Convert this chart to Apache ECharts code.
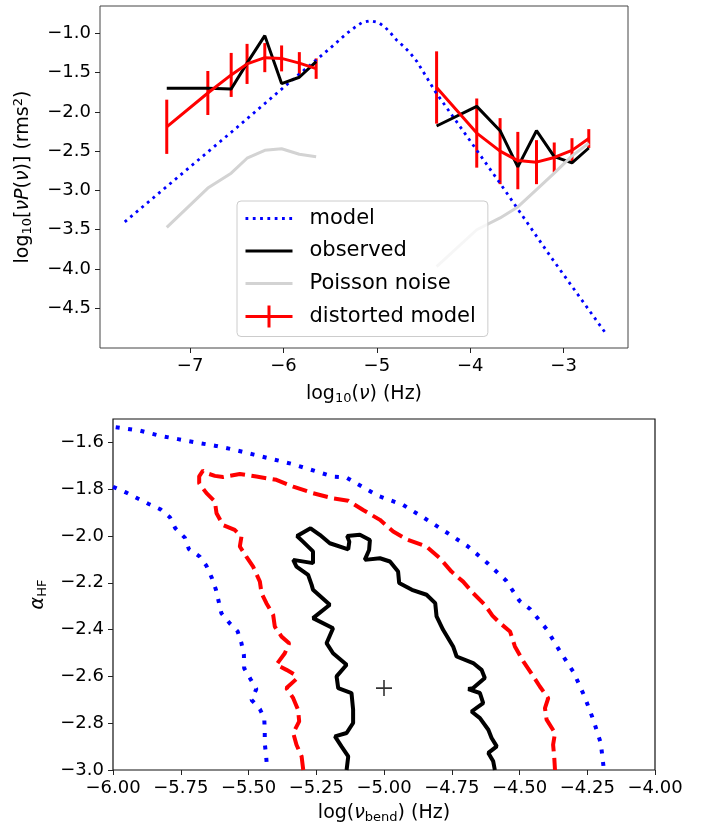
<!DOCTYPE html>
<html>
<head>
<meta charset="utf-8">
<script src="https://cdn.jsdelivr.net/npm/echarts@6/dist/echarts.min.js"></script>
<style>
html, body { margin: 0; padding: 0; background: #fff; }
#chart { width: 704px; height: 830px; }
</style>
</head>
<body>
<div id="chart"></div>
<script>
// ---- top panel: log10(nu) vs log10[nu P(nu)] ----
var modelX = [-7.70, -7.40, -7.00, -6.50, -6.00, -5.50, -5.32, -5.23, -5.16, -5.07, -4.98, -4.91, -4.85, -4.79, -4.71, -4.64, -4.57, -4.37, -4.00, -3.68, -3.14, -2.56];
var modelY = [-3.40, -3.10, -2.70, -2.20, -1.69, -1.19, -1.00, -0.92, -0.865, -0.84, -0.865, -0.925, -1.00, -1.085, -1.17, -1.255, -1.36, -1.75, -2.37, -2.91, -3.84, -4.80];

var loFreq = [-7.25, -6.81, -6.56, -6.39, -6.20, -6.02, -5.83, -5.65];
var hiFreq = [-4.36, -3.93, -3.68, -3.49, -3.29, -3.10, -2.91, -2.73];

var obsLo = [-1.70, -1.70, -1.71, -1.38, -1.03, -1.64, -1.56, -1.36];
var obsHi = [-2.18, -1.93, -2.24, -2.70, -2.24, -2.57, -2.65, -2.46];

var noiseLo = [-3.47, -2.97, -2.78, -2.59, -2.49, -2.47, -2.54, -2.57];
var noiseHi = [-3.97, -3.50, -3.35, -3.21, -2.99, -2.78, -2.56, -2.40];

var distLo = [-2.19, -1.76, -1.53, -1.39, -1.31, -1.32, -1.38, -1.45];
var distLoErr = [0.345, 0.28, 0.28, 0.255, 0.185, 0.165, 0.14, 0.13];
var distHi = [-1.69, -2.27, -2.50, -2.62, -2.64, -2.58, -2.49, -2.34];
var distHiErr = [0.46, 0.44, 0.42, 0.365, 0.28, 0.19, 0.155, 0.12];

var topXTicks = [-7, -6, -5, -4, -3];
var topYTicks = [-4.5, -4.0, -3.5, -3.0, -2.5, -2.0, -1.5, -1.0];

// ---- bottom panel: confidence contours in (log nu_bend, alpha_HF) ----
var contour1 = [[-5.138,-3.0],[-5.132,-2.942],[-5.157,-2.899],[-5.181,-2.856],[-5.138,-2.842],[-5.114,-2.799],[-5.114,-2.742],[-5.12,-2.671],[-5.169,-2.65],[-5.175,-2.60],[-5.138,-2.55],[-5.188,-2.501],[-5.212,-2.458],[-5.188,-2.394],[-5.262,-2.351],[-5.20,-2.294],[-5.262,-2.23],[-5.267,-2.209],[-5.28,-2.166],[-5.323,-2.131],[-5.335,-2.102],[-5.262,-2.116],[-5.262,-2.066],[-5.299,-2.024],[-5.321,-2.0],[-5.271,-1.967],[-5.237,-1.995],[-5.20,-2.031],[-5.132,-2.057],[-5.128,-2.024],[-5.136,-2.0],[-5.089,-1.995],[-5.052,-2.017],[-5.055,-2.06],[-5.071,-2.102],[-5.015,-2.095],[-4.978,-2.109],[-4.948,-2.152],[-4.944,-2.201],[-4.897,-2.23],[-4.843,-2.251],[-4.811,-2.287],[-4.806,-2.344],[-4.782,-2.401],[-4.745,-2.472],[-4.732,-2.515],[-4.671,-2.543],[-4.64,-2.572],[-4.628,-2.607],[-4.671,-2.65],[-4.689,-2.654],[-4.646,-2.671],[-4.634,-2.714],[-4.677,-2.75],[-4.646,-2.778],[-4.615,-2.828],[-4.603,-2.863],[-4.584,-2.899],[-4.615,-2.927],[-4.597,-2.963],[-4.591,-3.0]];
var contour2 = [[-5.298,-3.0],[-5.304,-2.942],[-5.323,-2.892],[-5.335,-2.842],[-5.313,-2.792],[-5.317,-2.743],[-5.335,-2.693],[-5.36,-2.65],[-5.323,-2.611],[-5.329,-2.593],[-5.36,-2.572],[-5.397,-2.55],[-5.366,-2.501],[-5.35,-2.458],[-5.378,-2.43],[-5.403,-2.387],[-5.409,-2.337],[-5.434,-2.287],[-5.452,-2.244],[-5.458,-2.195],[-5.483,-2.131],[-5.508,-2.088],[-5.532,-2.045],[-5.526,-2.003],[-5.551,-1.974],[-5.594,-1.953],[-5.618,-1.903],[-5.624,-1.853],[-5.655,-1.817],[-5.682,-1.775],[-5.682,-1.745],[-5.668,-1.721],[-5.645,-1.735],[-5.624,-1.743],[-5.594,-1.748],[-5.532,-1.735],[-5.471,-1.746],[-5.397,-1.76],[-5.335,-1.789],[-5.262,-1.817],[-5.188,-1.839],[-5.132,-1.849],[-5.077,-1.889],[-5.015,-1.931],[-4.966,-1.981],[-4.917,-2.014],[-4.843,-2.045],[-4.794,-2.095],[-4.751,-2.152],[-4.708,-2.195],[-4.671,-2.244],[-4.628,-2.294],[-4.60,-2.34],[-4.572,-2.372],[-4.535,-2.408],[-4.517,-2.472],[-4.486,-2.536],[-4.449,-2.60],[-4.425,-2.643],[-4.394,-2.693],[-4.406,-2.736],[-4.40,-2.785],[-4.369,-2.842],[-4.376,-2.892],[-4.372,-2.942],[-4.369,-3.0]];
var contour3a = [[-5.99,-1.535],[-5.90,-1.55],[-5.83,-1.571],[-5.76,-1.586],[-5.69,-1.601],[-5.62,-1.615],[-5.55,-1.632],[-5.48,-1.652],[-5.41,-1.672],[-5.34,-1.692],[-5.28,-1.713],[-5.19,-1.746],[-5.14,-1.749],[-5.10,-1.776],[-5.02,-1.829],[-4.93,-1.867],[-4.85,-1.924],[-4.77,-1.984],[-4.69,-2.045],[-4.62,-2.114],[-4.55,-2.19],[-4.50,-2.277],[-4.46,-2.313],[-4.40,-2.398],[-4.35,-2.494],[-4.30,-2.583],[-4.26,-2.686],[-4.23,-2.778],[-4.20,-2.885],[-4.19,-2.985],[-4.19,-3.0]];
var contour3b = [[-6.0,-1.79],[-5.95,-1.815],[-5.91,-1.839],[-5.87,-1.862],[-5.825,-1.886],[-5.79,-1.92],[-5.77,-1.967],[-5.735,-2.007],[-5.72,-2.056],[-5.68,-2.088],[-5.655,-2.128],[-5.635,-2.18],[-5.62,-2.23],[-5.61,-2.28],[-5.60,-2.33],[-5.57,-2.372],[-5.54,-2.408],[-5.526,-2.458],[-5.517,-2.508],[-5.516,-2.565],[-5.493,-2.611],[-5.471,-2.654],[-5.489,-2.70],[-5.458,-2.74],[-5.442,-2.778],[-5.44,-2.828],[-5.44,-2.885],[-5.435,-2.94],[-5.431,-3.0]];
var bestFit = [[-5.0, -2.65]];

var botXTicks = [-6.0, -5.75, -5.5, -5.25, -5.0, -4.75, -4.5, -4.25, -4.0];
var botYTicks = [-3.0, -2.8, -2.6, -2.4, -2.2, -2.0, -1.8, -1.6];

var FONT = 'DejaVu Sans';

function zip(xs, ys) {
	return xs.map(function (x, i) { return [x, ys[i]]; });
}
// two frequency ranges joined with a break
function twoParts(lo, hi) {
	return zip(loFreq, lo).concat([[-5.0, '-']], zip(hiFreq, hi));
}
function errRows(xs, ys, es) {
	return xs.map(function (x, i) { return [x, ys[i], es[i]]; });
}
function fmt(d) {
	return function (v) {
		var s = Math.abs(v).toFixed(d);
		return (v < 0 ? '\u2212' : '') + s;
	};
}

var richName = {
	t: { fontFamily: FONT, fontSize: 19, color: '#000' },
	i: { fontFamily: FONT, fontSize: 19, fontStyle: 'italic', color: '#000' },
	s: { fontFamily: FONT, fontSize: 13, color: '#000', padding: [9, 0, 0, 0] },
	u: { fontFamily: FONT, fontSize: 13, color: '#000', padding: [0, 0, 9, 0] }
};

function valueAxis(grid, min, max, ticks, dec, name, gap) {
	return {
		type: 'value',
		gridIndex: grid,
		min: min,
		max: max,
		splitLine: { show: false },
		axisLine: { show: false },
		axisTick: { show: true, customValues: ticks, length: 5, lineStyle: { color: '#222', width: 1 } },
		axisLabel: { customValues: ticks, formatter: fmt(dec), fontFamily: FONT, fontSize: 18, color: '#000', margin: 9 },
		name: name,
		nameLocation: 'middle',
		nameGap: gap,
		nameTextStyle: { fontFamily: FONT, fontSize: 19, color: '#000', rich: richName }
	};
}

var chart = echarts.init(document.getElementById('chart'));

chart.setOption({
	animation: false,
	backgroundColor: '#fff',
	grid: [
		{ left: 100, right: 76, top: 6, height: 342, show: true, borderColor: '#444', borderWidth: 1, backgroundColor: 'transparent' },
		{ left: 113, right: 49, top: 419, height: 351, show: true, borderColor: '#111', borderWidth: 1.2, backgroundColor: 'transparent' }
	],
	xAxis: [
		valueAxis(0, -7.965, -2.31, topXTicks, 0, '{t|log}{s|10}{t|(}{i|ν}{t|) (Hz)}', 35),
		valueAxis(1, -6, -4, botXTicks, 2, '{t|log(}{i|ν}{s|bend}{t|) (Hz)}', 32)
	],
	yAxis: [
		valueAxis(0, -5.005, -0.653, topYTicks, 1, '{t|log}{s|10}{t|[}{i|νP}{t|(}{i|ν}{t|)] (rms}{u|2}{t|)}', 66),
		valueAxis(1, -3, -1.5, botYTicks, 1, '{i|α}{s|HF}', 58)
	],
	legend: {
		orient: 'vertical',
		left: 237,
		top: 201,
		padding: [7, 12, 9, 7],
		itemWidth: 47,
		itemHeight: 22,
		itemGap: 11.5,
		backgroundColor: 'rgba(255,255,255,0.8)',
		borderColor: '#cccccc',
		borderWidth: 1,
		borderRadius: 4,
		itemStyle: { opacity: 0 },
		lineStyle: { width: 3 },
		textStyle: { fontFamily: FONT, fontSize: 21, color: '#000', padding: [0, 0, 0, 12] },
		data: [
			{ name: 'model' },
			{ name: 'observed' },
			{ name: 'Poisson noise' },
			{ name: 'distorted model', icon: 'path://M0,9.5H47V12.5H0Z M22,0H25V22H22Z', itemStyle: { opacity: 1, color: '#ff0000' } }
		]
	},
	series: [
		{
			name: 'model', type: 'line', xAxisIndex: 0, yAxisIndex: 0,
			data: zip(modelX, modelY), symbol: 'none',
			lineStyle: { color: '#0000ff', width: 2.8, type: [2.8, 4.5] }, itemStyle: { color: '#0000ff' }
		},
		{
			name: 'observed', type: 'line', xAxisIndex: 0, yAxisIndex: 0,
			data: twoParts(obsLo, obsHi), symbol: 'none', connectNulls: false,
			lineStyle: { color: '#000000', width: 3 }, itemStyle: { color: '#000000' }
		},
		{
			name: 'Poisson noise', type: 'line', xAxisIndex: 0, yAxisIndex: 0,
			data: twoParts(noiseLo, noiseHi), symbol: 'none', connectNulls: false,
			lineStyle: { color: '#d3d3d3', width: 3 }, itemStyle: { color: '#d3d3d3' }
		},
		{
			name: 'distorted model', type: 'line', xAxisIndex: 0, yAxisIndex: 0,
			data: twoParts(distLo, distHi), symbol: 'none', connectNulls: false,
			lineStyle: { color: '#ff0000', width: 3 }, itemStyle: { color: '#ff0000' }
		},
		{
			name: 'distorted model', type: 'custom', xAxisIndex: 0, yAxisIndex: 0,
			data: errRows(loFreq, distLo, distLoErr).concat(errRows(hiFreq, distHi, distHiErr)),
			itemStyle: { color: '#ff0000' },
			renderItem: function (params, api) {
				var x = api.value(0), y = api.value(1), e = api.value(2);
				var p1 = api.coord([x, y + e]);
				var p2 = api.coord([x, y - e]);
				return {
					type: 'line',
					shape: { x1: p1[0], y1: p1[1], x2: p2[0], y2: p2[1] },
					style: { stroke: '#ff0000', lineWidth: 3 }
				};
			}
		},
		{
			name: 'c3a', type: 'line', xAxisIndex: 1, yAxisIndex: 1,
			data: contour3a, symbol: 'none',
			lineStyle: { color: '#0000ff', width: 4, type: [4, 8.5] }
		},
		{
			name: 'c3b', type: 'line', xAxisIndex: 1, yAxisIndex: 1,
			data: contour3b, symbol: 'none',
			lineStyle: { color: '#0000ff', width: 4, type: [4, 8.5] }
		},
		{
			name: 'c2', type: 'line', xAxisIndex: 1, yAxisIndex: 1,
			data: contour2, symbol: 'none',
			lineStyle: { color: '#ff0000', width: 4, type: [15, 6.5] }
		},
		{
			name: 'c1', type: 'line', xAxisIndex: 1, yAxisIndex: 1,
			data: contour1, symbol: 'none',
			lineStyle: { color: '#000000', width: 4 }
		},
		{
			name: 'best', type: 'scatter', xAxisIndex: 1, yAxisIndex: 1,
			data: bestFit,
			symbol: 'path://M0,7.2H16V8.8H0Z M7.2,0H8.8V16H7.2Z',
			symbolSize: 16,
			itemStyle: { color: '#000000' }
		}
	]
});
</script>
</body>
</html>
